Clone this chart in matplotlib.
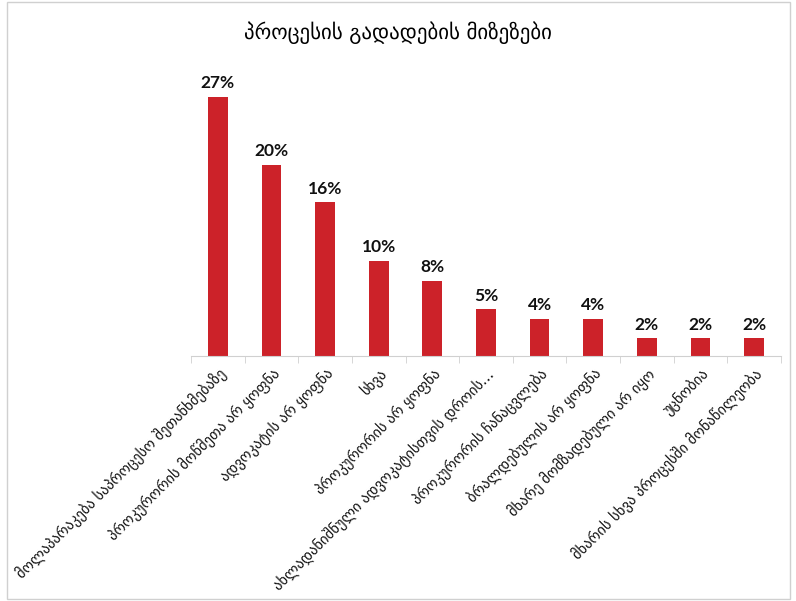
import matplotlib.pyplot as plt
from matplotlib.patches import Rectangle

# ========== DATA ==========
categories = [
    'მოლაპარაკება საპროცესო შეთანხმებაზე',
    'პროკურორის მოწმეთა არ ყოფნა',
    'ადვოკატის არ ყოფნა',
    'სხვა',
    'პროკურორის არ ყოფნა',
    'ახლადანიშნული ადვოკატისთვის დროის...',
    'პროკურორის ჩანაცვლება',
    'ბრალდებულის არ ყოფნა',
    'მხარე მომზადებული არ იყო',
    'უცნობია',
    'მხარის სხვა პროცესში მონაწილეობა',
]
values = [26.7, 19.7, 15.8, 9.8, 7.7, 4.8, 3.8, 3.8, 1.8, 1.8, 1.8]
value_labels = ['27%', '20%', '16%', '10%', '8%', '5%', '4%', '4%', '2%', '2%', '2%']
title = 'პროცესის გადადების მიზეზები'

# ========== PLOT ==========
fig = plt.figure(figsize=(7.96, 6.01), dpi=100)
ax = fig.add_axes([0.24, 0.4077, 0.741, 0.485])

x = list(range(len(categories)))
bars = ax.bar(x, values, width=0.37, color='#CC2229')

for b, lab in zip(bars, value_labels):
    ax.text(b.get_x() + b.get_width() / 2, b.get_height() + 0.6, lab,
            ha='center', va='bottom', fontsize=12.5, fontweight='bold',
            family='Lato', color='#111111')

ax.set_xlim(-0.5, len(categories) - 0.5)
ax.set_ylim(0, 30)
ax.set_yticks([])
for s in ['top', 'right', 'left']:
    ax.spines[s].set_visible(False)
ax.spines['bottom'].set_color('#d0d0d0')

ax.set_xticks(x)
ax.set_xticklabels(categories, rotation=45, ha='right', rotation_mode='anchor',
                   fontsize=10.5, family='DejaVu Sans', color='#111111')
ax.tick_params(axis='x', which='major', length=0, pad=7)
ax.set_xticks([i - 0.5 for i in range(len(categories) + 1)], minor=True)
ax.tick_params(axis='x', which='minor', length=5, color='#d0d0d0')

fig.text(0.5, 0.945, title, ha='center', va='center', fontsize=15,
         family='DejaVu Sans', color='#000000')

# frame around the chart
fig.patches.append(Rectangle((0.009, 0.004), 0.983, 0.993, transform=fig.transFigure,
                             fill=False, edgecolor='#d0d0d0', linewidth=1))

fig.savefig('out.png', dpi=100)
